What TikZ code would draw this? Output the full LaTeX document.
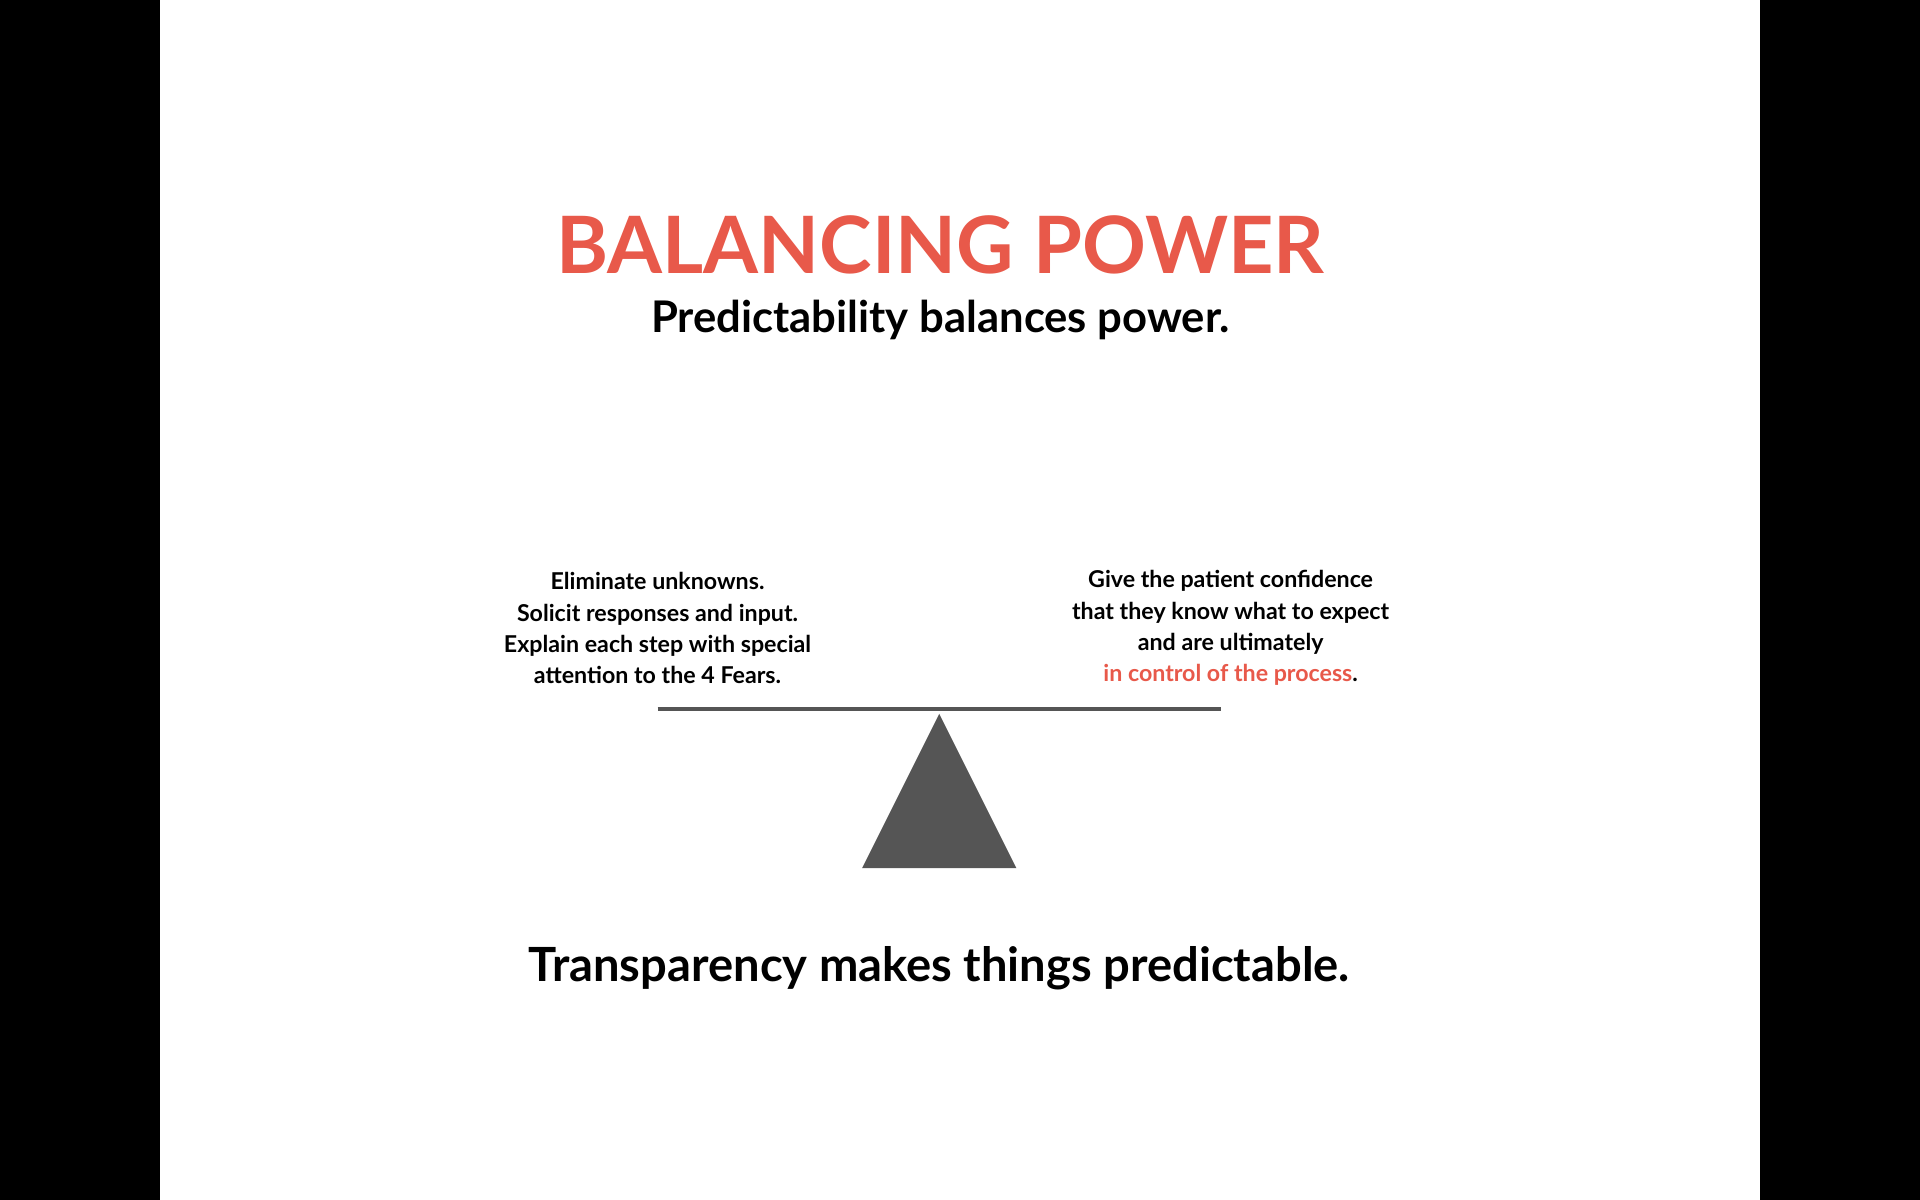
\documentclass[tikz,border=0pt]{standalone}
\usepackage{fontspec}
\setmainfont{Lato}
\usetikzlibrary{positioning}
\definecolor{accent}{HTML}{E8594A}
\definecolor{scalegray}{HTML}{555555}
\tikzset{
  note/.style={align=center, font=\fontsize{6.6}{8.9}\selectfont\bfseries},
}
\begin{document}
\begin{tikzpicture}[x=0.012245cm, y=-0.012245cm]
  \fill[black] (0,0) rectangle (1568,980);
  \fill[white] (131,0) rectangle (1437,980);

  \node[text=accent, font=\fontsize{22.5}{26}\selectfont\bfseries] (title) at (768,200) {BALANCING POWER};
  \node[font=\fontsize{12.4}{15}\selectfont\bfseries] (subtitle) at (768,261) {Predictability balances power.};

  \node[note] (left) at (537,513) {Eliminate unknowns.\\Solicit responses and input.\\Explain each step with special\\attention to the 4 Fears.};
  \node[note] (right) at (1005,513) {Give the patient confidence\\that they know what to expect\\and are ultimately\\{\color{accent}in control of the process}.};

  % scale
  \draw[scalegray, line width=1.2pt] (537,579) -- (997,579);
  \fill[scalegray] (767,583) -- (830,709) -- (704,709) -- cycle;

  \node[font=\fontsize{13.4}{16}\selectfont\bfseries] (motto) at (767,791) {Transparency makes things predictable.};
\end{tikzpicture}
\end{document}
